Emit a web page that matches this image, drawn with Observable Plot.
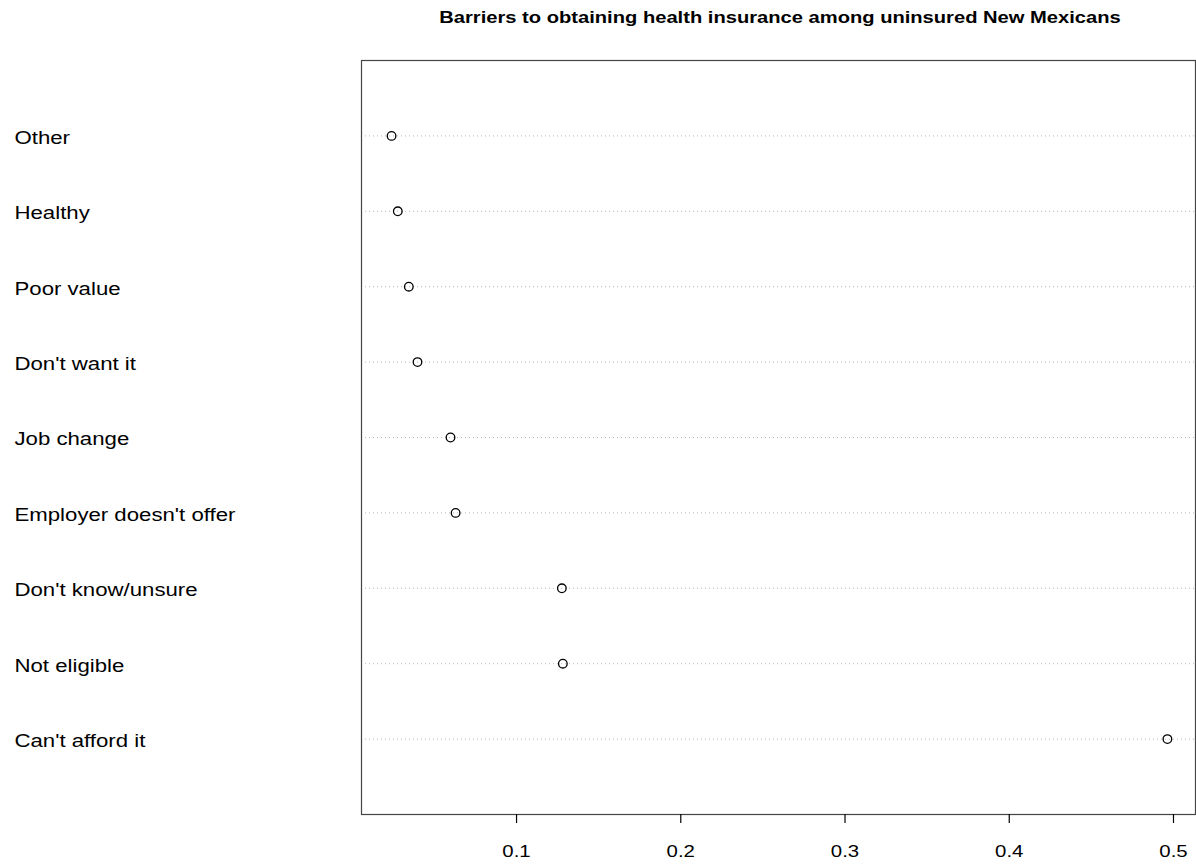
<!DOCTYPE html>
<html>
<head>
<meta charset="utf-8">
<script src="https://cdn.jsdelivr.net/npm/d3@7"></script>
<script src="https://cdn.jsdelivr.net/npm/@observablehq/plot@0.6"></script>
<style>
  html, body { margin: 0; padding: 0; background: #fff; }
  #wrap { position: relative; width: 1196px; height: 864px; overflow: hidden; }
  #title { position: absolute; left: 0; top: 0; width: 1196px; height: 36px; }
  #title span {
    position: absolute; left: 779.5px; top: 18px; white-space: nowrap;
    font-family: "Liberation Sans", Arial, sans-serif; font-weight: bold; font-size: 16.8px;
    transform: translate(-50%, -50%) scaleX(1.2); color: #000;
  }
  #chart { position: absolute; left: 0; top: 36px; }
</style>
</head>
<body>
<div id="wrap">
  <div id="title"><span>Barriers to obtaining health insurance among uninsured New Mexicans</span></div>
  <div id="chart"></div>
</div>
<script>
// Data (bottom to top in the chart)
const categories = ["Can't afford it", "Not eligible", "Don't know/unsure", "Employer doesn't offer",
                    "Job change", "Don't want it", "Poor value", "Healthy", "Other"];
const proportions = [0.4963, 0.1282, 0.1276, 0.0629, 0.0598, 0.0397, 0.0344, 0.0277, 0.0239];
const xTicks = [0.1, 0.2, 0.3, 0.4, 0.5];

const rows = categories.map((c, i) => ({category: c, value: proportions[i], pos: i + 1}));

const STRETCH = 1.2;

const svg = Plot.plot({
  width: 1196,
  height: 828,
  marginTop: 24,
  marginBottom: 50,
  marginLeft: 361,
  marginRight: 1,
  style: {fontFamily: "'Liberation Sans', Arial, sans-serif", background: "#fff", color: "#000", overflow: "visible"},
  x: {domain: [0.0056, 0.5134], ticks: xTicks, label: null},
  y: {domain: [0, categories.length + 1], axis: null, label: null},
  marks: [
    Plot.ruleY(rows, {y: "pos", stroke: "#b8b8b8", strokeWidth: 1, strokeDasharray: "1,3"}),
    Plot.frame({stroke: "#444", strokeWidth: 1.2}),
    Plot.axisX(xTicks, {tickSize: 9, tickPadding: 21, fontSize: 17, label: null, tickFormat: d => String(d), stroke: "#000", strokeWidth: 1.2}),
    Plot.dot(rows, {x: "value", y: "pos", r: 4.3, stroke: "#000", strokeWidth: 1.3, fill: "none"}),
    Plot.text(rows, {y: "pos", text: "category", frameAnchor: "left", textAnchor: "start", dx: -347, dy: 2, fontSize: 18.5, fill: "#000", lineAnchor: "middle"})
  ]
});

// Horizontal stretch of all texts, as in the reference rendering
svg.querySelectorAll("text").forEach(t => {
  const tr = t.getAttribute("transform") || "";
  t.setAttribute("transform", (tr + ` scale(${STRETCH},1)`).trim());
});

document.getElementById("chart").appendChild(svg);
</script>
</body>
</html>
